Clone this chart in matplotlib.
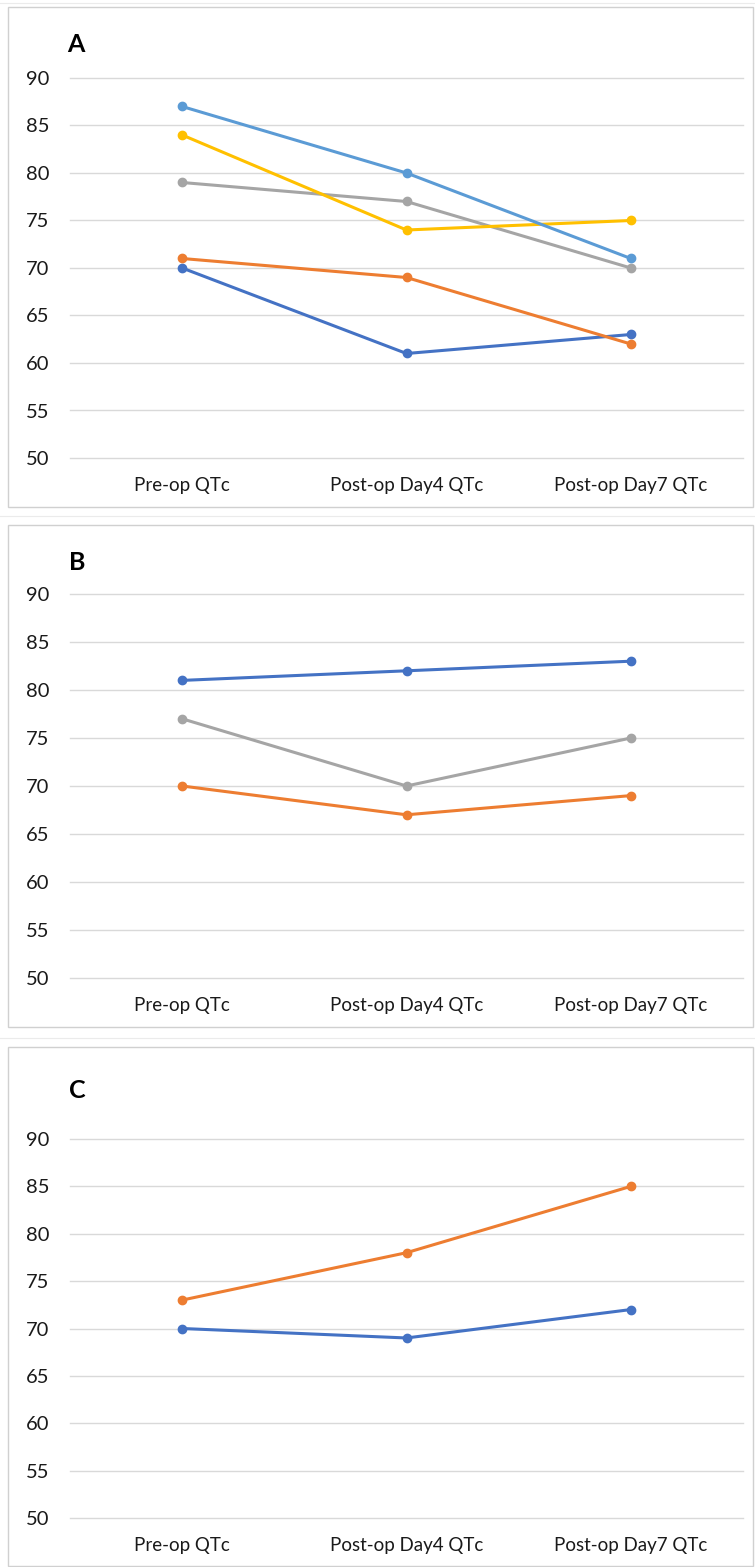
import matplotlib
matplotlib.use("Agg")
import matplotlib.pyplot as plt
from matplotlib.patches import Rectangle
from matplotlib.lines import Line2D

W, H = 755, 1567
categories = ["Pre-op QTc", "Post-op Day4 QTc", "Post-op Day7 QTc"]
yticks = [50, 55, 60, 65, 70, 75, 80, 85, 90]

# Panel A series
a_blue = [70, 61, 63]
a_orange = [71, 69, 62]
a_gray = [79, 77, 70]
a_yellow = [84, 74, 75]
a_lightblue = [87, 80, 71]
# Panel B series
b_blue = [81, 82, 83]
b_orange = [70, 67, 69]
b_gray = [77, 70, 75]
# Panel C series
c_blue = [70, 69, 72]
c_orange = [73, 78, 85]

COL = {"blue": "#4472C4", "orange": "#ED7D31", "gray": "#A5A5A5",
       "yellow": "#FFC000", "lightblue": "#5B9BD5"}

panels = [
    ("A", [("blue", a_blue), ("orange", a_orange), ("gray", a_gray),
           ("yellow", a_yellow), ("lightblue", a_lightblue)],
     dict(box=(8, 7, 507), plot=(78, 458), label=(67, 45))),
    ("B", [("blue", b_blue), ("orange", b_orange), ("gray", b_gray)],
     dict(box=(8, 525, 1027), plot=(594, 978), label=(69, 563))),
    ("C", [("blue", c_blue), ("orange", c_orange)],
     dict(box=(8, 1047, 1566), plot=(1139, 1518), label=(69, 1090))),
]

plt.rcParams['font.family'] = ['Lato', 'DejaVu Sans']
fig = plt.figure(figsize=(W / 100, H / 100), dpi=100)
fig.patch.set_facecolor("white")

# faint spreadsheet cell lines between panels
for yy in [3, 516, 1038]:
    fig.add_artist(Line2D([0, 1], [1 - yy / H] * 2, transform=fig.transFigure,
                          color="#EBEBEB", lw=0.8, zorder=0))

X0, X1 = 70, 743
for name, series, g in panels:
    bx, btop, bbot = g["box"]
    fig.add_artist(Rectangle((bx / W, 1 - bbot / H), (753 - bx) / W, (bbot - btop) / H,
                             transform=fig.transFigure, fill=False,
                             edgecolor="#D0D0D0", lw=1.0, zorder=1))
    ptop, pbot = g["plot"]
    ax = fig.add_axes([X0 / W, 1 - pbot / H, (X1 - X0) / W, (pbot - ptop) / H])
    ax.set_facecolor("none")
    for key, vals in series:
        ax.plot(range(len(categories)), vals, color=COL[key], lw=2.2,
                marker="o", markersize=6, solid_capstyle="round", zorder=3)
    ax.set_ylim(50, 90)
    ax.set_xlim(-0.5, 2.5)
    ax.set_yticks(yticks)
    ax.set_xticks(range(len(categories)))
    ax.set_xticklabels(categories)
    ax.grid(axis="y", color="#D9D9D9", lw=1.0, zorder=0)
    for gl in ax.get_ygridlines():
        gl.set_clip_on(False)
    ax.set_axisbelow(True)
    for s in ax.spines.values():
        s.set_visible(False)
    ax.tick_params(axis="both", length=0, colors="#1a1a1a")
    ax.tick_params(axis="y", pad=15, labelsize=14.5)
    ax.tick_params(axis="x", pad=14, labelsize=13.5)
    lx, ly = g["label"]
    fig.text(lx / W, 1 - ly / H, name, fontsize=18, fontweight="bold",
             ha="left", va="center", color="black")

fig.savefig("out.png", dpi=100, facecolor="white")
